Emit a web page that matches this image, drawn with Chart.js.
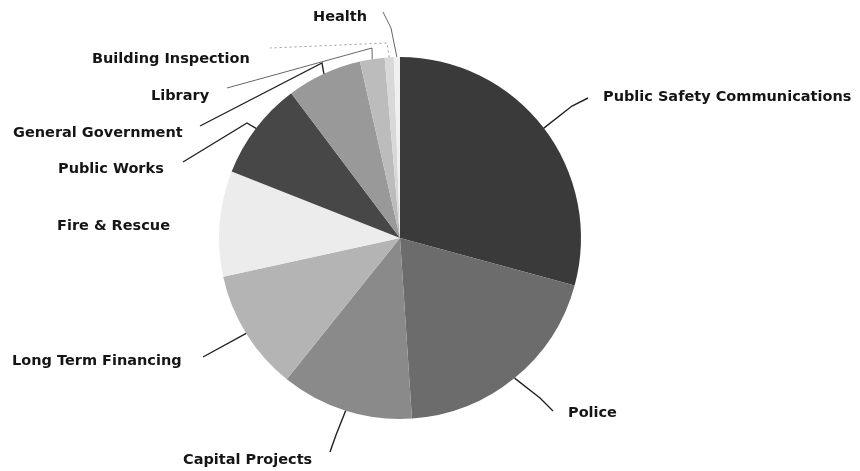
<!DOCTYPE html>
<html>
<head>
<meta charset="utf-8">
<script src="https://cdn.jsdelivr.net/npm/chart.js@4/dist/chart.umd.min.js"></script>
<style>
  html, body { margin: 0; padding: 0; background: #fff; }
  #wrap { width: 860px; height: 471px; }
</style>
</head>
<body>
<div id="wrap"><canvas id="chart" width="860" height="471"></canvas></div>
<script>
  const categories = ["Public Safety Communications", "Police", "Capital Projects", "Long Term Financing",
    "Fire & Rescue", "Public Works", "General Government", "Library", "Building Inspection", "Health"];
  const shares = [29.2, 19.7, 11.8, 10.8, 9.4, 8.75, 6.7, 2.2, 0.8, 0.55];
  const shades = ["#3a3a3a", "#6c6c6c", "#8a8a8a", "#b4b4b4", "#ececec", "#474747", "#999999", "#bcbcbc", "#d8d8d8", "#f0f0f0"];

  // label anchors + leader line bend points (pixels in the 860x471 canvas)
  const labelSpots = [
    { x: 603, y: 97, bend: [[572, 106], [588, 98]] },
    { x: 568, y: 413, bend: [[540, 398], [553, 411]] },
    { x: 183, y: 460, bend: [[336, 435], [330, 452]] },
    { x: 12, y: 361, bend: [[203, 357]] },
    { x: 57, y: 226, bend: null },
    { x: 58, y: 169, bend: [[247, 123], [183, 162]] },
    { x: 13, y: 133, bend: [[322, 63], [200, 126]] },
    { x: 151, y: 96, bend: [[372, 48], [227, 88]], light: true },
    { x: 92, y: 59, bend: [[387, 43], [270, 48]], dotted: true },
    { x: 313, y: 17, bend: [[391, 28], [383, 12]], light: true }
  ];

  const leaderLabels = {
    id: "leaderLabels",
    afterDatasetsDraw(chart) {
      const ctx = chart.ctx;
      const arcs = chart.getDatasetMeta(0).data;
      ctx.save();
      ctx.font = "bold 14.5px 'DejaVu Sans'";
      ctx.textBaseline = "middle";
      ctx.fillStyle = "#151515";
      arcs.forEach((arc, i) => {
        const spot = labelSpots[i];
        const mid = (arc.startAngle + arc.endAngle) / 2;
        const ex = arc.x + Math.cos(mid) * arc.outerRadius;
        const ey = arc.y + Math.sin(mid) * arc.outerRadius;
        if (spot.bend) {
          ctx.beginPath();
          ctx.moveTo(ex, ey);
          spot.bend.forEach(p => ctx.lineTo(p[0], p[1]));
          ctx.lineWidth = spot.dotted || spot.light ? 1 : 1.4;
          ctx.strokeStyle = spot.dotted ? "#999" : (spot.light ? "#666" : "#222");
          ctx.setLineDash(spot.dotted ? [2, 3] : []);
          ctx.stroke();
        }
        ctx.fillText(categories[i], spot.x, spot.y);
      });
      ctx.restore();
    }
  };

  new Chart(document.getElementById("chart"), {
    type: "pie",
    data: {
      labels: categories,
      datasets: [{
        data: shares,
        backgroundColor: shades,
        borderWidth: 0
      }]
    },
    options: {
      responsive: false,
      animation: false,
      layout: { padding: { top: 57, bottom: 52, left: 219, right: 279 } },
      plugins: {
        legend: { display: false },
        tooltip: { enabled: false }
      }
    },
    plugins: [leaderLabels]
  });
</script>
</body>
</html>
